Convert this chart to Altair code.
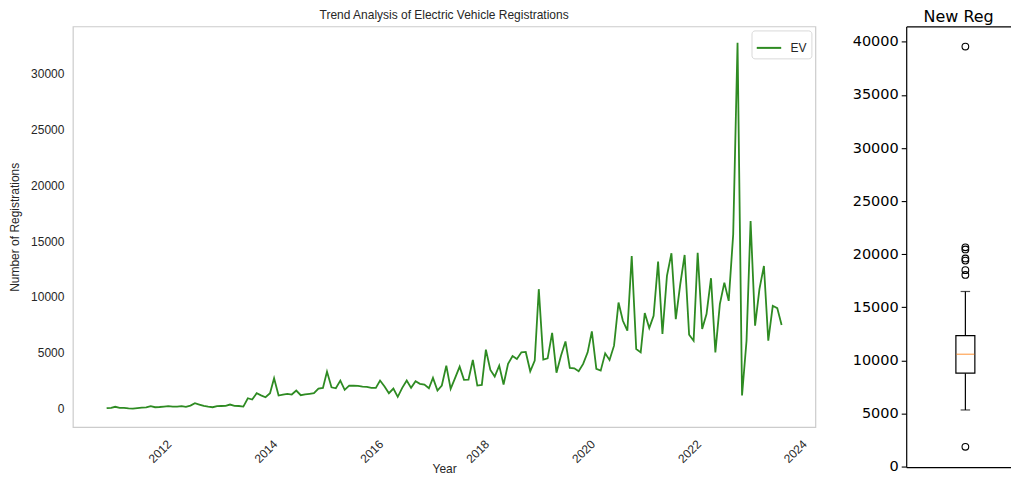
import altair as alt
import pandas as pd

# ---------------- data ----------------
start_month = "2011-01-01"
ev_values = [
    55, 90, 180, 90, 75, 30, 10, 55, 100, 130, 230, 140,
    160, 200, 230, 190, 200, 230, 170, 290, 500, 380, 260, 190,
    140, 230, 250, 260, 380, 260, 250, 200, 945, 830, 1390, 1200,
    1034, 1390, 2727, 1185, 1274, 1337, 1274, 1631, 1212, 1280, 1340, 1390,
    1809, 1872, 3324, 1925, 1836, 2522, 1693, 2077, 2060, 2050, 1990, 1950,
    1872, 1872, 2522, 1988, 1390, 1809, 1070, 1872, 2522, 1872, 2460, 2228,
    2166, 1836, 2763, 1631, 2077, 3859, 1782, 2763, 3770, 2585, 2611, 4367,
    2077, 2139, 5285, 3476, 2879, 3859, 2166, 4011, 4724, 4456, 5045, 5080,
    3351, 4305, 10695, 4394, 4510, 6780, 3230, 4750, 6025, 3654, 3619, 3351,
    4011, 5045, 6916, 3565, 3414, 4955, 4367, 5642, 9501, 7870, 6979, 13663,
    5348, 5045, 8556, 7219, 8316, 13155, 6684, 11881, 13904, 8021, 11141, 13752,
    6622, 6087, 13957, 7130, 8467, 11676, 5045, 9358, 11283, 9652, 15597, 32736,
    1185, 6087, 16783, 7424, 10695, 12772, 6087, 9207, 9001, 7487,
]
series_name = "EV"
year_ticks = [2012, 2014, 2016, 2018, 2020, 2022, 2024]
reg_ticks = [0, 5000, 10000, 15000, 20000, 25000, 30000]

box_stats = {"q1": 8800, "median": 10580, "q3": 12340, "low": 5330, "high": 16490}
box_outliers = [39560, 20650, 20450, 19600, 19400, 18500, 18050, 1860]
box_ticks = [0, 5000, 10000, 15000, 20000, 25000, 30000, 35000, 40000]

# ---------------- left: line chart ----------------
dates = pd.date_range(start_month, periods=len(ev_values), freq="MS")
line_df = pd.DataFrame({
    "date": dates.strftime("%Y-%m-%d"),
    "value": ev_values,
    "series": series_name,
})

TXT = "#262626"
FONT_L = "Liberation Sans"

x_enc = alt.X(
    "date:T",
    scale=alt.Scale(domain=[alt.DateTime(year=2010, month=5, date=13),
                            alt.DateTime(year=2024, month=5, date=21)], nice=False),
    axis=alt.Axis(
        values=[alt.DateTime(year=y, month=1, date=1) for y in year_ticks],
        format="%Y", labelAngle=315, labelAlign="center", labelBaseline="middle",
        labelPadding=24, ticks=False, tickSize=0, domain=False, grid=False,
        labelFont=FONT_L, labelFontSize=12, labelColor=TXT,
        title="Year", titleFont=FONT_L, titleFontSize=12, titleFontWeight="normal",
        titleColor=TXT, titleY=41, titleBaseline="middle",
    ),
)
y_enc = alt.Y(
    "value:Q",
    scale=alt.Scale(domain=[-1640, 34189], nice=False, zero=False),
    axis=alt.Axis(
        values=reg_ticks, format="d", ticks=False, tickSize=0, domain=False, grid=False,
        labelPadding=9, labelFont=FONT_L, labelFontSize=12, labelColor=TXT,
        title="Number of Registrations", titleFont=FONT_L, titleFontSize=12,
        titleFontWeight="normal", titleColor=TXT, titlePadding=9,
    ),
)
color_enc = alt.Color(
    "series:N",
    scale=alt.Scale(domain=[series_name], range=["#2e8b22"]),
    legend=alt.Legend(
        title=None, orient="top-right", offset=4, symbolType="stroke",
        symbolSize=600, symbolStrokeWidth=2, labelFont=FONT_L, labelFontSize=12,
        labelColor=TXT, fillColor="white", strokeColor="#d9d9d9", padding=4,
        cornerRadius=3, labelOffset=8,
    ),
)

left = alt.Chart(line_df).mark_line(strokeWidth=1.8).encode(
    x=x_enc, y=y_enc, color=color_enc
).properties(
    width=744, height=401.5,
    title=alt.TitleParams("Trend Analysis of Electric Vehicle Registrations",
                          font=FONT_L, fontSize=12, fontWeight="normal",
                          color=TXT, anchor="middle", offset=4),
    view=alt.ViewBackground(stroke="#cccccc", strokeWidth=1.2),
)

# ---------------- right: box plot ----------------
FONT_R = "DejaVu Sans"
RW = 105
y_scale_r = alt.Scale(domain=[-47, 41457], nice=False, zero=False)
y_axis_r = alt.Axis(
    values=box_ticks, format="d", grid=False, domain=True, domainColor="black",
    domainWidth=1.2, ticks=True, tickSize=5, tickColor="black", tickWidth=1.1,
    labelPadding=3, labelFont=FONT_R, labelFontSize=14.5, labelColor="black",
    title=None,
)
x_scale_r = alt.Scale(domain=[0.5, 0.5 + RW / 120], nice=False, zero=False)
frame_axis = dict(labels=False, ticks=False, grid=False, domain=True,
                  domainColor="black", domainWidth=1.2, title=None)

whisker_df = pd.DataFrame({
    "pos": [1, 1],
    "lo": [box_stats["low"], box_stats["q3"]],
    "hi": [box_stats["q1"], box_stats["high"]],
})
cap_df = pd.DataFrame({"pos": [1, 1], "v": [box_stats["low"], box_stats["high"]]})
box_df = pd.DataFrame({"pos": [1], "q1": [box_stats["q1"]], "q3": [box_stats["q3"]],
                       "median": [box_stats["median"]]})
out_df = pd.DataFrame({"pos": [1] * len(box_outliers), "v": box_outliers})

xr = alt.X("pos:Q", scale=x_scale_r, axis=None)

whiskers = alt.Chart(whisker_df).mark_rule(color="black", strokeWidth=1.2).encode(
    x=alt.X("pos:Q", scale=x_scale_r, axis=alt.Axis(orient="bottom", **frame_axis)),
    y=alt.Y("lo:Q", scale=y_scale_r, axis=y_axis_r), y2="hi:Q")
caps = alt.Chart(cap_df).mark_tick(orient="horizontal", size=9.5, thickness=1.2,
                                   color="black").encode(
    x=xr, y=alt.Y("v:Q", scale=y_scale_r, axis=y_axis_r))
box = alt.Chart(box_df).mark_bar(orient="vertical", size=19, fill="white",
                                 stroke="black", strokeWidth=1.2).encode(
    x=xr, y=alt.Y("q1:Q", scale=y_scale_r, axis=y_axis_r), y2="q3:Q")
median = alt.Chart(box_df).mark_tick(orient="horizontal", size=18, thickness=1.2,
                                     color="#ff7f0e").encode(
    x=xr, y=alt.Y("median:Q", scale=y_scale_r, axis=y_axis_r))
outs = alt.Chart(out_df).mark_point(shape="circle", filled=False, size=45,
                                    strokeWidth=1.1, color="black", opacity=1).encode(
    x=alt.X("pos:Q", scale=x_scale_r, axis=alt.Axis(orient="top", **frame_axis)),
    y=alt.Y("v:Q", scale=y_scale_r, axis=y_axis_r))

right = alt.layer(whiskers, caps, box, median, outs).resolve_axis(
    x="independent"
).properties(
    width=RW, height=441.5,
    title=alt.TitleParams("New Reg", font=FONT_R, fontSize=16, fontWeight="normal",
                          color="black", anchor="middle", offset=1),
    view=alt.ViewBackground(stroke=None),
)

chart = alt.hconcat(left, right, spacing=35).resolve_legend(
    color="independent"
).properties(
    padding={"left": 0, "top": 0, "right": 0, "bottom": 0}
).configure(background="white")

chart.save("out.html", embed_options={"renderer": "svg", "actions": False})
